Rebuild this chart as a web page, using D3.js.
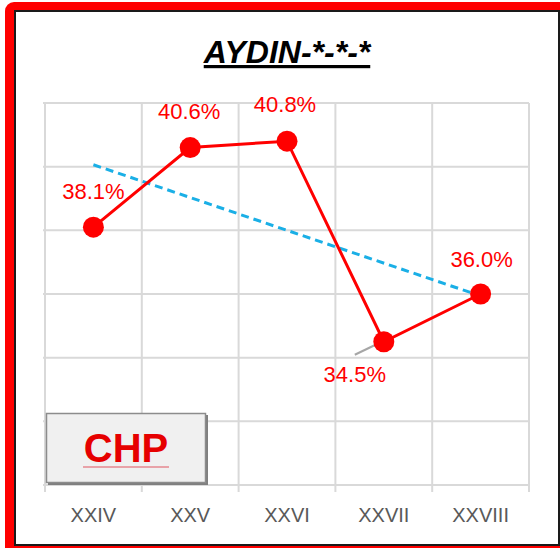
<!DOCTYPE html>
<html>
<head>
<meta charset="utf-8">
<script src="https://cdn.jsdelivr.net/npm/d3@7"></script>
<style>
  body { margin: 0; background: #fff; }
  text { font-family: "Liberation Sans", Arial, sans-serif; }
</style>
</head>
<body>
<svg id="chart" width="560" height="548"></svg>
<script>
// data
const categories = ['XXIV', 'XXV', 'XXVI', 'XXVII', 'XXVIII'];
const values = [38.1, 40.6, 40.8, 34.5, 36.0];
const yTicks = [30, 32, 34, 36, 38, 40, 42];
const titleText = 'AYDIN-*-*-*';
const partyName = 'CHP';

// label offsets from each point (px)
const labelOffsets = [[0, -28], [-1, -29], [-2, -29], [-29, 40], [1, -27]];

const svg = d3.select('#chart');
const plot = { left: 45, right: 529, top: 103, bottom: 485 };

// red frame + inner white box
svg.append('rect')
    .attr('x', 5).attr('y', 2)
    .attr('width', 620).attr('height', 620)
    .attr('rx', 9)
    .attr('fill', '#ff0000');
svg.append('rect')
    .attr('x', 15).attr('y', 11)
    .attr('width', 544).attr('height', 534)
    .attr('fill', '#fff')
    .attr('stroke', '#1a1a1a')
    .attr('stroke-width', 2);

const x = d3.scaleBand()
    .domain(categories)
    .range([plot.left, plot.right]);
const y = d3.scaleLinear()
    .domain([30, 42])
    .range([plot.bottom, plot.top]);

const grid = svg.append('g');
// horizontal gridlines
grid.selectAll('line.h')
    .data(yTicks)
    .enter().append('line')
    .attr('x1', plot.left - 2).attr('x2', plot.right)
    .attr('y1', d => y(d)).attr('y2', d => y(d))
    .attr('stroke', '#d9d9d9')
    .attr('stroke-width', 2);
// vertical gridlines at category boundaries
const bounds = categories.map(c => x(c)).concat([x(categories[4]) + x.bandwidth()]);
grid.selectAll('line.v')
    .data(bounds)
    .enter().append('line')
    .attr('x1', d => d).attr('x2', d => d)
    .attr('y1', plot.top).attr('y2', plot.bottom + 7)
    .attr('stroke', '#d9d9d9')
    .attr('stroke-width', 2);

// x axis labels
const xaxis = svg.append('g')
    .attr('transform', `translate(0, ${plot.bottom})`)
    .call(d3.axisBottom(x).tickSize(0).tickPadding(23));
xaxis.select('.domain').remove();
xaxis.selectAll('text')
    .attr('font-family', '"Liberation Sans", Arial, sans-serif')
    .attr('font-size', 20)
    .attr('fill', '#595959');

// title
svg.append('text')
    .attr('x', 287).attr('y', 63)
    .attr('text-anchor', 'middle')
    .attr('font-size', 32)
    .attr('font-weight', 'bold')
    .attr('font-style', 'italic')
    .attr('text-decoration', 'underline')
    .attr('fill', '#000')
    .text(titleText);

// CHP box
svg.append('rect')
    .attr('x', 48).attr('y', 415)
    .attr('width', 160).attr('height', 70)
    .attr('fill', '#7f7f7f');
svg.append('rect')
    .attr('x', 46.5).attr('y', 413.5)
    .attr('width', 159).attr('height', 69)
    .attr('fill', '#f0f0f0')
    .attr('stroke', '#8c8c8c')
    .attr('stroke-width', 1.5);
svg.append('line')
    .attr('x1', 83).attr('x2', 169)
    .attr('y1', 467).attr('y2', 467)
    .attr('stroke', '#e8a2a8')
    .attr('stroke-width', 2);
svg.append('text')
    .attr('x', 126).attr('y', 462)
    .attr('text-anchor', 'middle')
    .attr('font-size', 40)
    .attr('font-weight', 'bold')
    .attr('fill', '#e60000')
    .text(partyName);

// linear trendline
const xs = values.map((d, i) => i + 1);
const mx = d3.mean(xs), my = d3.mean(values);
const slope = d3.sum(xs, (v, i) => (v - mx) * (values[i] - my)) / d3.sum(xs, v => (v - mx) ** 2);
const icpt = my - slope * mx;
const cx = i => x(categories[i]) + x.bandwidth() / 2;

svg.append('line')
    .attr('x1', cx(0)).attr('y1', y(icpt + slope * 1))
    .attr('x2', cx(4)).attr('y2', y(icpt + slope * 5))
    .attr('stroke', '#1aafe6')
    .attr('stroke-width', 3)
    .attr('stroke-dasharray', '8,5');

// leader line for 34.5%
svg.append('line')
    .attr('x1', cx(3) - 29).attr('y1', y(values[3]) + 13)
    .attr('x2', cx(3) - 2).attr('y2', y(values[3]))
    .attr('stroke', '#a6a6a6')
    .attr('stroke-width', 2);

// series line
const line = d3.line()
    .x((d, i) => cx(i))
    .y(d => y(d));
svg.append('path')
    .datum(values)
    .attr('d', line)
    .attr('fill', 'none')
    .attr('stroke', '#ff0000')
    .attr('stroke-width', 3);

svg.selectAll('circle.pt')
    .data(values)
    .enter().append('circle')
    .attr('cx', (d, i) => cx(i))
    .attr('cy', d => y(d))
    .attr('r', 10.5)
    .attr('fill', '#ff0000');

// data labels
svg.selectAll('text.lbl')
    .data(values)
    .enter().append('text')
    .attr('x', (d, i) => cx(i) + labelOffsets[i][0])
    .attr('y', (d, i) => y(d) + labelOffsets[i][1])
    .attr('text-anchor', 'middle')
    .attr('font-size', 22)
    .attr('fill', '#ff0000')
    .text(d => d.toFixed(1) + '%');
</script>
</body>
</html>
